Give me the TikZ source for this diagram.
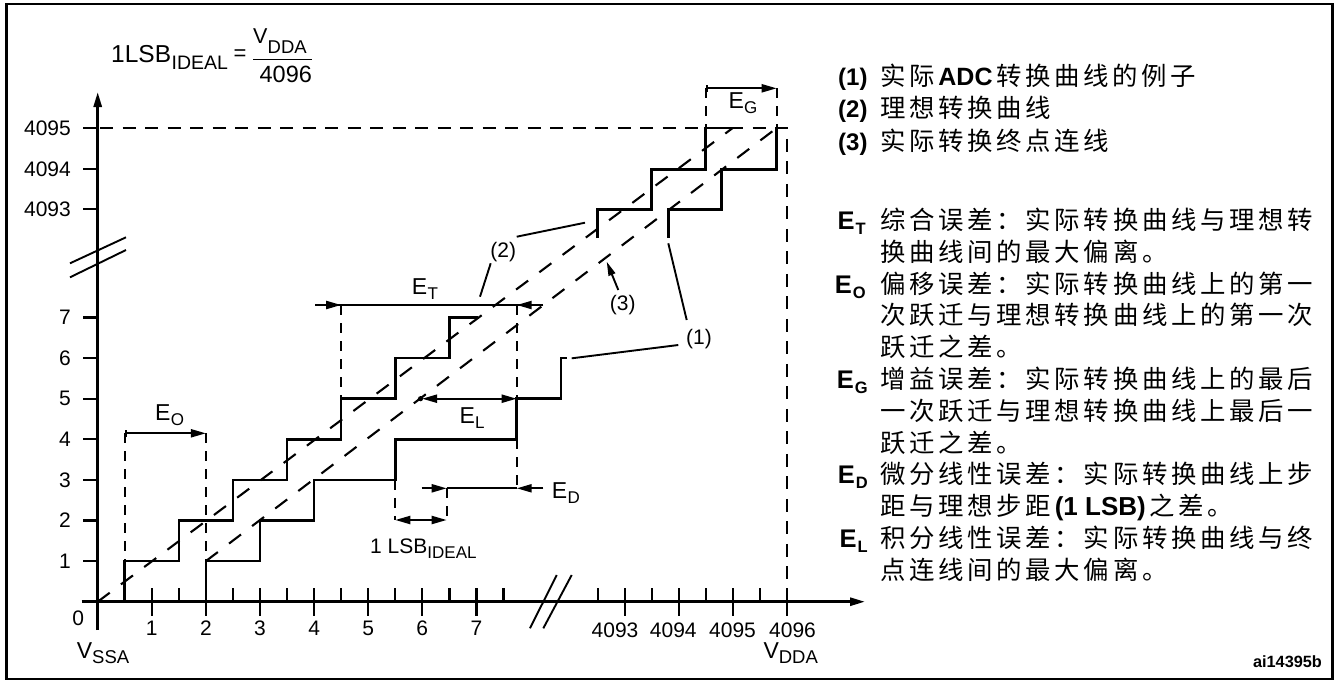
\documentclass[tikz,border=0pt]{standalone}
\usepackage{fontspec}
\setmainfont{Liberation Sans}
\newfontfamily\cjk{Noto Sans CJK SC}
\usetikzlibrary{arrows.meta}
\newdimen\cjkgap \cjkgap=3.7pt
\ExplSyntaxOn
\NewDocumentCommand\cjks{m}{\tl_map_inline:nn{#1}{{##1}\kern\cjkgap}}
\ExplSyntaxOff
\newcommand\fs[1]{\fontsize{#1}{#1}\selectfont}
\newcommand\Esub[1]{\fs{23}E\kern0.3pt\raisebox{-5pt}{\fs{17}#1}}
\newcommand\Vsub[1]{\fs{23}V\raisebox{-5pt}{\fs{18.5}#1}}
\newcommand\Ebold[1]{\bfseries\fs{25.5}E\kern1pt\raisebox{-5pt}{\fs{16.5}#1}}
\newcommand\zh[1]{\fs{25.4}\cjk\cjks{#1}}
\begin{document}
\begin{tikzpicture}[x=1pt,y=-1pt,
  >={Triangle[length=15pt,width=8pt]},
  frame/.style={line width=2.6pt},
  axis/.style={line width=2.7pt},
  stair/.style={line width=2.6pt},
  dline/.style={line width=2.1pt,dash pattern=on 10pt off 8pt},
  hline/.style={line width=2.1pt,dash pattern=on 13pt off 9.5pt},
  diag/.style={line width=2.1pt,dash pattern=on 15pt off 14pt},
  lead/.style={line width=1.9pt},
  meas/.style={line width=2.1pt},
  tick/.style={line width=2.3pt},
  lab/.style={inner sep=0pt,font=\fs{21}},
  txt/.style={inner sep=0pt,anchor=base west}]
\useasboundingbox (0,0) rectangle (1340,681);
\draw[frame] (6.7,4) rectangle (1332.7,679);

% ---------- formula ----------
\node[txt] (f1) at (111,62.7) {\fs{24.5}1LSB};
\node[txt] (f2) at (171.5,69.3) {\fs{19.5}IDEAL};
\node[inner sep=0pt,font=\fs{22}] (feq) at (240,55) {=};
\node[txt] (fv) at (253,43.3) {\fs{21.5}V};
\node[txt] (fdda) at (267.5,53.3) {\fs{18.5}DDA};
\draw[line width=1.6pt] (253,59.3) coordinate (fb1) -- (312,59.3) coordinate (fb2);
\node[inner sep=0pt,anchor=base] (f4096) at (285.8,82.7) {\fs{23.5}4096};

% ---------- axes ----------
\coordinate (O) at (97.7,601.7);
\draw[axis,->] (97.7,630) -- (97.7,92);
\draw[axis,->] (81.7,601.7) -- (865,601.7);
% axis breaks
\draw[lead] (70,263.3) -- (126,237.3);
\draw[lead] (70,277.3) -- (126,250);
\draw[lead] (530,628.3) -- (556.7,575);
\draw[lead] (543.3,628.3) -- (571.7,575);

% y ticks and labels
\foreach \yy/\t in {128/4095,169.3/4094,209.3/4093,317.5/7,358.1/6,398.7/5,439.3/4,479.9/3,520.5/2,561.1/1}{
  \draw[tick] (83.3,\yy) -- (97.7,\yy);
  \node[lab,anchor=east] at (71,\yy) {\t};
}
% x ticks left part
\foreach \u in {0.5,1.5,...,7.5}{
  \draw[tick] (97.7+54.1*\u,588.3) -- (97.7+54.1*\u,601.7);
}
\foreach \u in {1,...,7}{
  \draw[tick] (97.7+54.1*\u,588.3) -- (97.7+54.1*\u,616);
  \node[lab] at (97.7+54.1*\u,628.3) {\u};
}
% x ticks right part
\foreach \xx in {597.7,651.7,705.7,759.7}{
  \draw[tick] (\xx,588.3) -- (\xx,601.7);
}
\foreach \xx in {624.7,678.7,732.7,786.7}{
  \draw[tick] (\xx,588.3) -- (\xx,616);
}
\node[lab] (x4093) at (615,630) {4093};
\node[lab] (x4094) at (673.3,630) {4094};
\node[lab] (x4095) at (732.5,630) {4095};
\node[lab] (x4096) at (792.5,630) {4096};
\node[lab] (x0) at (78.3,618.3) {0};
\node[txt] (vssa) at (76.7,658.3) {\Vsub{SSA}};
\node[txt] (vdda) at (763.3,658.3) {\Vsub{DDA}};

% ---------- dashed guide lines ----------
\draw[hline] (100,128) -- (786.7,128) -- (786.7,601.7);
\draw[diag] (O) -- (732.7,128);
\draw[diag] (205.9,561.1) -- (776.7,128);

% ---------- staircases ----------
\draw[stair] (124.75,601.7) |- (178.85,561.1) |- (232.95,520.5) |- (287.05,479.9)
  |- (341.15,439.3) |- (395.25,398.7) |- (449.35,358.1) |- (478,317.5);
\draw[stair] (205.9,601.7) |- (260,561.1) |- (314.1,520.5) |- (395.25,479.9)
  |- (516.7,439.3) |- (561,398.7) |- (566.7,358.1);
\draw[stair] (597.7,238) |- (651.7,209.3) |- (705.7,169.3) |- (732.7,128);
\draw[stair] (668.3,237.7) |- (721.7,209.3) |- (776.7,169.3) -- (776.7,128);

% ---------- dashed verticals ----------
\draw[dline] (124.75,433.3) -- (124.75,561.1);
\draw[dline] (205.9,433.3) -- (205.9,561.1);
\draw[dline] (341.15,305) -- (341.15,398.7);
\draw[dline] (516.7,305) -- (516.7,398.7);
\draw[dline] (516.7,439.3) -- (516.7,488.3);
\draw[dline] (395.25,479.9) -- (395.25,520);
\draw[dline] (446.7,488.3) -- (446.7,520);
\draw[dline] (705.7,88.3) -- (705.7,128);
\draw[dline] (776.7,88.3) -- (776.7,128);

% ---------- measurements ----------
% E_O
\draw[meas,{Bar[width=7pt]}->] (124.75,433.3) -- (205.9,433.3);
\node[txt] (eo) at (155,420.7) {\Esub{O}};
% E_T
\draw[meas] (315,305) -- (543.3,305);
\draw[meas,->] (315,305) -- (341.15,305);
\draw[meas,->] (543.3,305) -- (516.7,305);
\node[txt] (et) at (411.7,294) {\Esub{T}};
% E_L
\fill (420.5,398.7) circle (2.6pt);
\draw[meas,<->] (422,398.7) -- (516.7,398.7);
\node[txt] (el) at (459.3,423.3) {\Esub{L}};
% E_D
\draw[meas,->] (421.7,488.3) -- (446.7,488.3);
\draw[meas] (446.7,488.3) -- (516.7,488.3);
\draw[meas,->] (543.3,488.3) -- (516.7,488.3);
\node[txt] (ed) at (551.7,498.3) {\Esub{D}};
% 1 LSB
\draw[meas,<->] (395.25,520) -- (446.7,520);
\node[txt] (lsb) at (370,553.3) {\fs{21}1 LSB\raisebox{-5pt}{\fs{17}IDEAL}};
% E_G
\draw[meas,{Bar[width=7pt]}->] (705.7,88.3) -- (776.7,88.3);
\node[txt] (eg) at (728.3,108.3) {\Esub{G}};

% ---------- leaders ----------
\node[lab] (l2) at (503.3,251.7) {(2)};
\node[lab] (l3) at (622.7,305) {(3)};
\node[lab] (l1) at (699,339) {(1)};
\draw[lead] (516.7,236.7) -- (585,222.7);
\draw[lead] (490.7,263.3) -- (480,296.7);
\draw[lead,-{Triangle[length=14pt,width=7pt]}] (618.3,290) -- (606.7,261.7);
\draw[lead] (686.7,320) -- (668.3,243.3);
\draw[lead] (678.3,345) -- (571.7,358.3);

% ---------- legend ----------
\node[txt] (k1) at (838,85) {\bfseries\fs{24}(1)};
\node[txt] (k1t) at (880,85) {\zh{实际{\rmfamily\bfseries\fs{25}ADC}转换曲线的例子}};
\node[txt] (k2) at (838,117.8) {\bfseries\fs{24}(2)};
\node[txt] (k2t) at (880,117.8) {\zh{理想转换曲线}};
\node[txt] (k3) at (838,150.7) {\bfseries\fs{24}(3)};
\node[txt] (k3t) at (880,150.7) {\zh{实际转换终点连线}};

% ---------- definitions ----------
\node[inner sep=0pt,anchor=base east] (dT) at (866,229.5) {\Ebold{T}};
\node[txt] (dT1) at (880,229.5) {\zh{综合误差：实际转换曲线与理想转}};
\node[txt] (dT2) at (880,261.3) {\zh{换曲线间的最大偏离。}};
\node[inner sep=0pt,anchor=base east] (dO) at (866,293.1) {\Ebold{O}};
\node[txt] (dO1) at (880,293.1) {\zh{偏移误差：实际转换曲线上的第一}};
\node[txt] (dO2) at (880,324.9) {\zh{次跃迁与理想转换曲线上的第一次}};
\node[txt] (dO3) at (880,356.7) {\zh{跃迁之差。}};
\node[inner sep=0pt,anchor=base east] (dG) at (868,388.5) {\Ebold{G}};
\node[txt] (dG1) at (880,388.5) {\zh{增益误差：实际转换曲线上的最后}};
\node[txt] (dG2) at (880,420.3) {\zh{一次跃迁与理想转换曲线上最后一}};
\node[txt] (dG3) at (880,452.1) {\zh{跃迁之差。}};
\node[inner sep=0pt,anchor=base east] (dD) at (868,483.9) {\Ebold{D}};
\node[txt] (dD1) at (880,483.9) {\zh{微分线性误差：实际转换曲线上步}};
\node[txt] (dD2) at (880,515.7) {\zh{距与理想步距{\rmfamily\bfseries\fs{26}(1 LSB)}之差。}};
\node[inner sep=0pt,anchor=base east] (dL) at (868,547.5) {\Ebold{L}};
\node[txt] (dL1) at (880,547.5) {\zh{积分线性误差：实际转换曲线与终}};
\node[txt] (dL2) at (880,579.3) {\zh{点连线间的最大偏离。}};

\node[inner sep=0pt] (ref) at (1287.5,661.7) {\bfseries\fs{16.3}ai14395b};
\end{tikzpicture}
\end{document}
